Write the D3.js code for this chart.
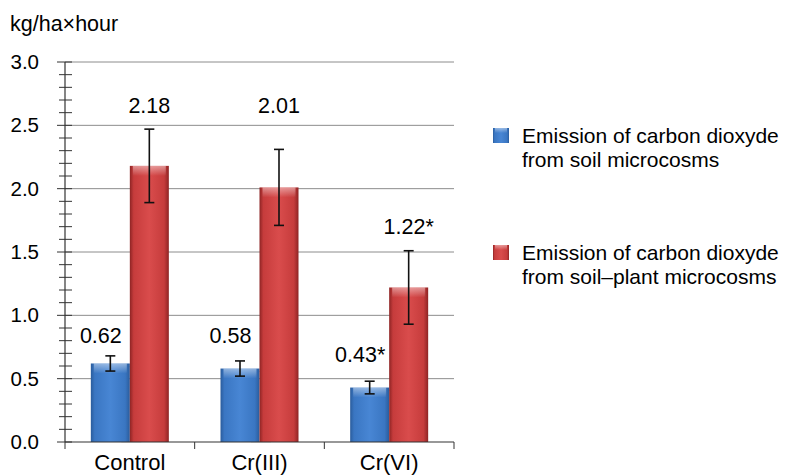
<!DOCTYPE html>
<html>
<head>
<meta charset="utf-8">
<script src="https://cdn.jsdelivr.net/npm/d3@7"></script>
<style>
  body { margin: 0; background: #fff; }
  text { font-family: "Liberation Sans", Arial, sans-serif; fill: #000; }
</style>
</head>
<body>
<svg width="786" height="475"></svg>
<script>
// chart values
const categories = ["Control", "Cr(III)", "Cr(VI)"];
const soil = [0.62, 0.58, 0.43];
const soilErr = [0.06, 0.06, 0.05];
const soilLabels = ["0.62", "0.58", "0.43*"];
const plant = [2.18, 2.01, 1.22];
const plantErr = [0.29, 0.30, 0.29];
const plantLabels = ["2.18", "2.01", "1.22*"];
// height (in axis units) where each value label sits
const soilLabelAt = [0.78, 0.78, 0.63];
const plantLabelAt = [2.60, 2.60, 1.64];
const yTicks = [0, 0.5, 1.0, 1.5, 2.0, 2.5, 3.0];
const legendNames = [
    ["Emission of carbon dioxyde", "from soil microcosms"],
    ["Emission of carbon dioxyde", "from soil\u2013plant microcosms"]
];

const svg = d3.select("svg");
const plotL = 65, plotR = 454, plotT = 62, plotB = 442;

const x = d3.scaleBand()
    .domain(categories)
    .range([plotL, plotR]);

const y = d3.scaleLinear()
    .domain([0, 3])
    .range([plotB, plotT]);

const barW = 39;

// gradients for the bevelled bars
const defs = svg.append("defs");
function grad(id, dark, mid, light) {
    const g = defs.append("linearGradient").attr("id", id)
        .attr("x1", 0).attr("x2", 1).attr("y1", 0).attr("y2", 0);
    g.append("stop").attr("offset", "0%").attr("stop-color", dark);
    g.append("stop").attr("offset", "10%").attr("stop-color", mid);
    g.append("stop").attr("offset", "50%").attr("stop-color", light);
    g.append("stop").attr("offset", "88%").attr("stop-color", mid);
    g.append("stop").attr("offset", "100%").attr("stop-color", dark);
}
grad("blueG", "#2a5c9c", "#3a76c2", "#4886d4");
grad("redG", "#8e2424", "#c63c3c", "#d94c4c");
const topG = defs.append("linearGradient").attr("id", "topShine")
    .attr("x1", 0).attr("x2", 0).attr("y1", 0).attr("y2", 1);
topG.append("stop").attr("offset", "0%").attr("stop-color", "#fff").attr("stop-opacity", 0.45);
topG.append("stop").attr("offset", "100%").attr("stop-color", "#fff").attr("stop-opacity", 0);

// gridlines
svg.append("g")
    .selectAll("line")
    .data(yTicks.filter(d => d > 0))
    .enter()
    .append("line")
    .attr("x1", plotL)
    .attr("x2", plotR)
    .attr("y1", d => y(d))
    .attr("y2", d => y(d))
    .attr("stroke", "#8c8c8c")
    .attr("stroke-width", 1);

// faint ghost outlines behind the bars
svg.append("g")
    .selectAll("rect")
    .data(categories)
    .enter()
    .append("rect")
    .attr("x", d => x(d) + x.bandwidth() / 2 - 8)
    .attr("y", (d, i) => y(soil[i]) + 3)
    .attr("width", 19)
    .attr("height", (d, i) => plotB - y(soil[i]) - 3)
    .attr("fill", "none")
    .attr("stroke", "#dcdcdc")
    .attr("stroke-width", 1);

function bars(vals, cls, fill, offset) {
    const g = svg.append("g").attr("class", cls);
    g.selectAll("rect.main")
        .data(vals)
        .enter()
        .append("rect")
        .attr("class", "main")
        .attr("x", (d, i) => x(categories[i]) + x.bandwidth() / 2 + offset)
        .attr("y", d => y(d))
        .attr("width", barW)
        .attr("height", d => plotB - y(d))
        .attr("fill", `url(#${fill})`);
    g.selectAll("rect.shine")
        .data(vals)
        .enter()
        .append("rect")
        .attr("class", "shine")
        .attr("x", (d, i) => x(categories[i]) + x.bandwidth() / 2 + offset + 3)
        .attr("y", d => y(d))
        .attr("width", barW - 6)
        .attr("height", 10)
        .attr("fill", "url(#topShine)");
}
bars(soil, "soil", "blueG", -barW);
bars(plant, "plant", "redG", 0);

// error bars
function errors(vals, errs, offset) {
    const g = svg.append("g");
    vals.forEach((v, i) => {
        const cx = x(categories[i]) + x.bandwidth() / 2 + offset;
        const y1 = y(v + errs[i]), y2 = y(v - errs[i]);
        g.append("line").attr("x1", cx).attr("x2", cx).attr("y1", y1).attr("y2", y2)
            .attr("stroke", "#111").attr("stroke-width", 1.6);
        [y1, y2].forEach(yy => g.append("line")
            .attr("x1", cx - 5).attr("x2", cx + 5).attr("y1", yy).attr("y2", yy)
            .attr("stroke", "#111").attr("stroke-width", 1.6));
    });
}
errors(soil, soilErr, -barW / 2);
errors(plant, plantErr, barW / 2);

// value labels
function labels(texts, at, offset) {
    svg.append("g")
        .selectAll("text")
        .data(texts)
        .enter()
        .append("text")
        .attr("x", (d, i) => x(categories[i]) + x.bandwidth() / 2 + offset)
        .attr("y", (d, i) => y(at[i]))
        .attr("text-anchor", "middle")
        .attr("font-size", 21.5)
        .text(d => d);
}
labels(soilLabels, soilLabelAt, -barW / 2 - 9.5);
labels(plantLabels, plantLabelAt, barW / 2);

// y axis with crossing ticks
const yAxis = svg.append("g");
yAxis.append("line")
    .attr("x1", plotL).attr("x2", plotL).attr("y1", plotT).attr("y2", plotB)
    .attr("stroke", "#333").attr("stroke-width", 1.2);
yAxis.selectAll("line.minor")
    .data(d3.range(0, 31).map(d => d / 10))
    .enter()
    .append("line")
    .attr("class", "minor")
    .attr("x1", d => (Math.round(d * 10) % 5 === 0) ? plotL - 8 : plotL - 6)
    .attr("x2", plotL + 7)
    .attr("y1", d => y(d))
    .attr("y2", d => y(d))
    .attr("stroke", "#333")
    .attr("stroke-width", 1);
yAxis.selectAll("text")
    .data(yTicks)
    .enter()
    .append("text")
    .attr("x", 39)
    .attr("y", d => y(d) + 7)
    .attr("text-anchor", "end")
    .attr("font-size", 20.5)
    .text(d => d.toFixed(1));

svg.append("text")
    .attr("x", 10)
    .attr("y", 31)
    .attr("font-size", 21.5)
    .text("kg/ha\u00d7hour");

// x axis
const xAxis = svg.append("g");
xAxis.append("line")
    .attr("x1", plotL).attr("x2", plotR).attr("y1", plotB).attr("y2", plotB)
    .attr("stroke", "#333").attr("stroke-width", 1.2);
xAxis.selectAll("line.tick")
    .data(categories.concat(["end"]))
    .enter()
    .append("line")
    .attr("class", "tick")
    .attr("x1", (d, i) => i < categories.length ? x(d) : plotR)
    .attr("x2", (d, i) => i < categories.length ? x(d) : plotR)
    .attr("y1", plotB)
    .attr("y2", plotB + 7)
    .attr("stroke", "#333");
xAxis.selectAll("text")
    .data(categories)
    .enter()
    .append("text")
    .attr("x", d => x(d) + x.bandwidth() / 2)
    .attr("y", 470)
    .attr("text-anchor", "middle")
    .attr("font-size", 22)
    .text(d => d);

// legend
const legend = svg.append("g").attr("transform", "translate(493,128)");
const legendFill = ["url(#blueG)", "url(#redG)"];
legendNames.forEach((lines, i) => {
    const g = legend.append("g").attr("transform", `translate(0,${i * 117})`);
    g.append("rect").attr("width", 16).attr("height", 15).attr("fill", legendFill[i]);
    g.append("rect").attr("x", 2).attr("width", 12).attr("height", 5).attr("fill", "url(#topShine)");
    lines.forEach((t, j) => g.append("text")
        .attr("x", 29)
        .attr("y", 15 + j * 24)
        .attr("font-size", 21)
        .text(t));
});
</script>
</body>
</html>
